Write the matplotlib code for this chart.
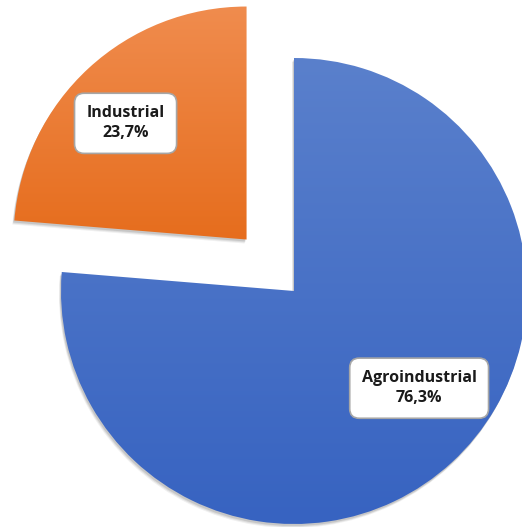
import numpy as np
import matplotlib
matplotlib.use("Agg")
import matplotlib.pyplot as plt
import matplotlib.patches as mpatches
from matplotlib.colors import LinearSegmentedColormap

labels = ["Agroindustrial", "Industrial"]
shares = [76.3, 23.7]
share_text = ["76,3%", "23,7%"]
explode = [0, 70]  # matplotlib explode is in data units here (pixels)
grads = [("#5a80cc", "#3763c1"), ("#f08c4e", "#e66d1d")]
# label placement: fraction of radius, angle nudge (deg) from bisector
label_r = [0.68, 0.72]
label_da = [9.5, 3.5]

fig = plt.figure(figsize=(5.22, 5.27), dpi=100)
ax = fig.add_axes([0, 0, 1, 1])

wedges, _ = ax.pie(shares, explode=explode, startangle=90, counterclock=False,
                   center=(294, 236), radius=233, frame=True,
                   wedgeprops=dict(linewidth=0))
ax.set_xlim(0, 522)
ax.set_ylim(0, 527)
ax.set_aspect("equal")
ax.axis("off")

# soft shadow under the slices
for w in wedges:
    for k, a in [(4, 0.06), (3, 0.08), (2, 0.1)]:
        sh = mpatches.Wedge((w.center[0] - k * 0.5, w.center[1] - k), w.r,
                            w.theta1, w.theta2, fc="black", ec="none",
                            alpha=a, zorder=0.5)
        ax.add_patch(sh)

# vertical gradient fill clipped to each wedge
rend = fig.canvas.get_renderer()
inv = ax.transData.inverted()
for w, (c_top, c_bot) in zip(wedges, grads):
    w.set_facecolor("none")
    bb = w.get_window_extent(rend)
    (dx0, dy0), (dx1, dy1) = inv.transform([[bb.x0, bb.y0], [bb.x1, bb.y1]])
    cmap = LinearSegmentedColormap.from_list("g", [c_bot, c_top])
    grad = np.linspace(0, 1, 256).reshape(-1, 1)
    im = ax.imshow(grad, cmap=cmap, origin="lower", aspect="auto",
                   extent=(dx0, dx1, dy0, dy1), zorder=1)
    im.set_clip_path(w)

ax.set_xlim(0, 522)
ax.set_ylim(0, 527)

# labels on each slice
for w, lab, pct, fr, da in zip(wedges, labels, share_text, label_r, label_da):
    ang = np.deg2rad((w.theta1 + w.theta2) / 2 + da)
    cx, cy = w.center
    r = fr * w.r
    ax.text(cx + r * np.cos(ang), cy + r * np.sin(ang), f"{lab}\n{pct}",
            ha="center", va="center", fontsize=11.5, fontweight="bold",
            family="Open Sans", color="#1a1a1a", linespacing=1.35, zorder=5,
            bbox=dict(boxstyle="round,pad=0.75,rounding_size=0.6",
                      fc="white", ec="#a6a6a6", lw=1.2))

fig.savefig("out.png", dpi=100)
